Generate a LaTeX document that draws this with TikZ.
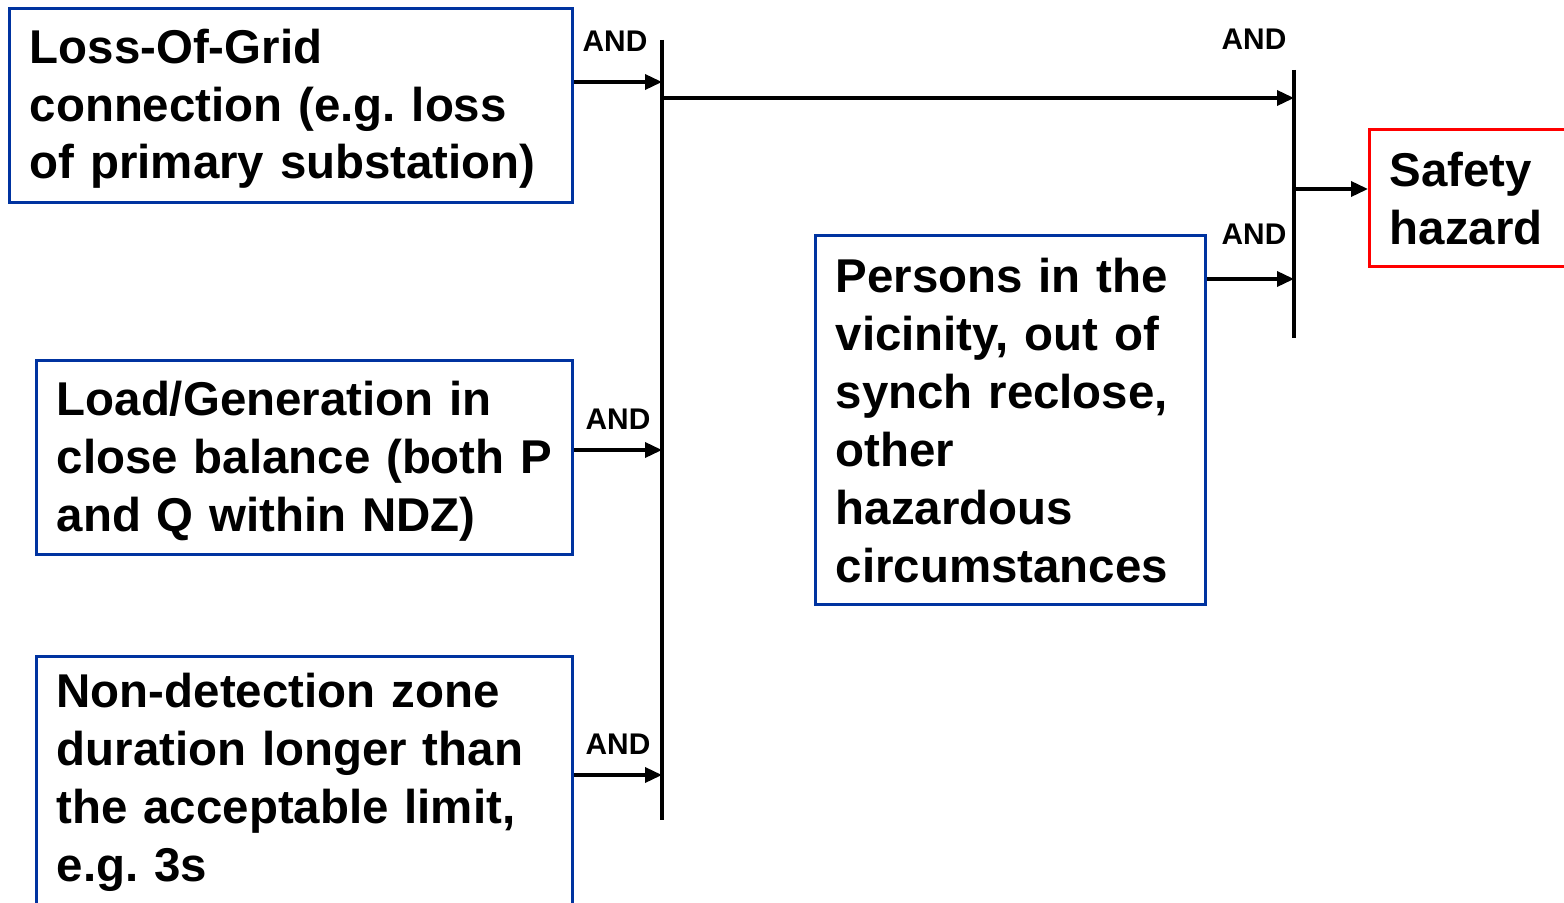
\documentclass[tikz,border=0pt]{standalone}
\usepackage{fontspec}
\setmainfont{Liberation Sans}
\usetikzlibrary{positioning,arrows.meta}
\definecolor{causeblue}{RGB}{0,51,160}
\definecolor{hazardred}{RGB}{255,0,0}
\frenchspacing

\begin{document}
\begin{tikzpicture}[
  x=0.02cm, y=-0.02cm,
  every node/.style={font=\fontsize{27}{33}\selectfont\bfseries},
  cause/.style={draw=causeblue,line width=1.9pt,anchor=north west,
    align=left,inner xsep=0.4cm,inner ysep=0pt},
  hazard/.style={cause,draw=hazardred},
  gate/.style={black,line width=2.2pt},
  link/.style={black,line width=2pt,-{Triangle[length=0.34cm,width=0.3cm]}},
  andlabel/.style={font=\fontsize{17}{20}\selectfont\bfseries}
]
\useasboundingbox (0,0) rectangle (1564,902);
\clip (0,0) rectangle (1564,902);

% causes on the left
\node[cause,text width=10.46cm,minimum height=3.88cm] (loss) at (8,7)
  {\strut Loss-Of-Grid\\connection (e.g. loss\\of primary substation)};
\node[cause,text width=9.92cm,minimum height=3.88cm] (balance) at (35,359)
  {\strut Load/Generation in\\close balance (both P\\and Q within NDZ)};
\node[cause,text width=9.92cm,minimum height=5.04cm] (ndz) at (35,655)
  {Non-detection zone\\duration longer than\\the acceptable limit,\\e.g. 3s};

% second input and result
\node[cause,text width=7.0cm,minimum height=7.38cm] (persons) at (814,234)
  {Persons in the\\vicinity, out of\\synch reclose,\\other\\hazardous\\circumstances};
\node[hazard,text width=3.6cm,minimum height=2.74cm] (safety) at (1368,128)
  {Safety\\hazard};

% AND gates
\coordinate (g1top) at (662,40);
\coordinate (g1bot) at (662,820);
\coordinate (g2top) at (1294,70);
\coordinate (g2bot) at (1294,338);
\draw[gate] (g1top) -- (g1bot);
\draw[gate] (g2top) -- (g2bot);

% inputs of the first gate
\coordinate (in1) at (662,82);
\coordinate (in2) at (662,450);
\coordinate (in3) at (662,775);
\draw[link] (loss.east |- in1) -- (in1);
\draw[link] (balance.east |- in2) -- (in2);
\draw[link] (ndz.east |- in3) -- (in3);

% first gate into the second one
\coordinate (out1) at (662,98);
\coordinate (in4) at (1294,98);
\coordinate (in5) at (1294,279);
\draw[link] (out1) -- (in4);
\draw[link] (persons.east |- in5) -- (in5);

% result
\coordinate (out2) at (1294,189);
\draw[link] (out2) -- (safety.west |- out2);

\node[andlabel] (and1) at (615,41) {AND};
\node[andlabel] (and2) at (618,419) {AND};
\node[andlabel] (and3) at (618,744) {AND};
\node[andlabel] (and4) at (1254,39) {AND};
\node[andlabel] (and5) at (1254,234) {AND};

\end{tikzpicture}
\end{document}
